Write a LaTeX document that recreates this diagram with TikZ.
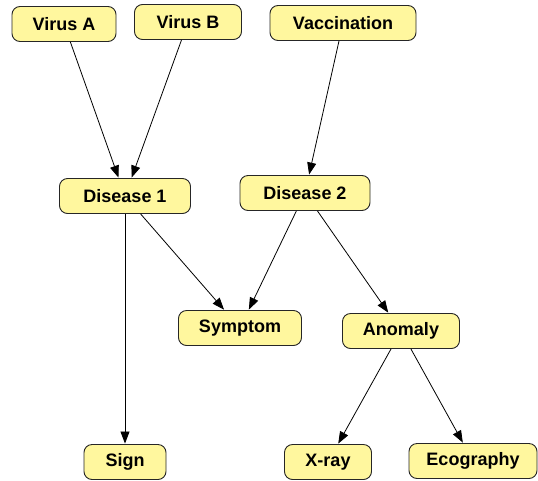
\documentclass[tikz,border=0pt]{standalone}
\usepackage{fontspec}
\setmainfont{Liberation Sans}
\usetikzlibrary{arrows.meta}
\definecolor{nodeyellow}{RGB}{255,247,158}
\tikzset{
  var/.style = {draw=black!85, fill=nodeyellow, rounded corners=8pt, line width=0.9pt,
                minimum height=35pt, inner xsep=14pt, inner ysep=0pt,
                font=\fontsize{18}{20}\selectfont\bfseries},
  dep/.style = {-{Triangle[length=12pt,width=9pt]}, line width=0.8pt, shorten >=0.5pt}
}
\begin{document}
\begin{tikzpicture} [x = 1pt, y = -1pt]
		    \useasboundingbox (0,0) rectangle (538,480);

		    \node [var, minimum width=104pt] (va) at (64,24) {Virus A};
		    \node [var, minimum width=107pt] (vb) at (188,22) {Virus B};
		    \node [var, minimum width=146pt] (vac) at (343,23) {Vaccination};

		    \node [var, minimum width=131pt] (d1) at (125,196) {Disease 1};
		    \node [var, minimum width=130pt] (d2) at (305,193) {Disease 2};

		    \node [var, minimum width=123pt] (sym) at (240,328) {Symptom};
		    \node [var, minimum width=117pt] (ano) at (401,331) {Anomaly};

		    \node [var, minimum width=82pt] (sign) at (125,462) {Sign};
		    \node [var, minimum width=87pt] (xray) at (328,462) {X-ray};
		    \node [var, minimum width=128pt] (eco) at (473,461) {Ecography};

		    \draw [dep] (va) -- (d1);
		    \draw [dep] (vb) -- (d1);
		    \draw [dep] (vac) -- (d2);

		    \draw [dep] (d1) -- (sign);
		    \draw [dep] (d1) -- (sym);
		    \draw [dep] (d2) -- (sym);
		    \draw [dep] (d2) -- (ano);

		    \draw [dep] (ano) -- (xray);
		    \draw [dep] (ano) -- (eco);
		\end{tikzpicture}
\end{document}
